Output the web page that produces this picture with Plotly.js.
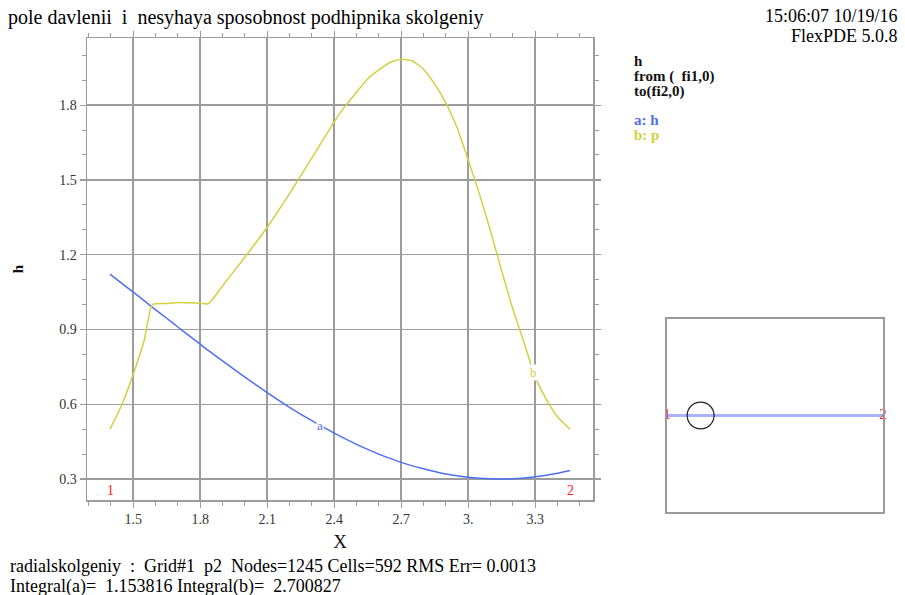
<!DOCTYPE html>
<html><head><meta charset="utf-8">
<script src="https://cdn.plot.ly/plotly-3.0.1.min.js"></script>
<style>html,body{margin:0;padding:0;background:#fff}#chart{width:905px;height:595px}</style>
</head><body><div id="chart"></div>
<script>
// ---- data ----
const xVals = [1.396,1.45,1.50,1.55,1.586,1.65,1.70,1.75,1.80,1.836,1.90,2.00,2.10,2.20,2.30,2.40,2.45,2.50,2.55,2.60,2.65,2.70,2.75,2.80,2.85,2.90,2.95,3.00,3.05,3.10,3.15,3.20,3.25,3.30,3.35,3.40,3.456];
const hVals = [1.122,1.084,1.050,1.015,0.989,0.945,0.910,0.875,0.841,0.816,0.774,0.709,0.647,0.588,0.534,0.484,0.461,0.439,0.419,0.400,0.383,0.367,0.353,0.341,0.330,0.320,0.313,0.307,0.303,0.301,0.300,0.301,0.304,0.309,0.315,0.323,0.334];
const pVals = [0.500,0.600,0.720,0.860,1.000,1.004,1.008,1.007,1.005,1.003,1.075,1.190,1.310,1.445,1.588,1.733,1.797,1.852,1.905,1.941,1.971,1.984,1.977,1.944,1.884,1.809,1.710,1.580,1.445,1.295,1.135,0.982,0.848,0.710,0.620,0.550,0.500];
const seriesNames = ['h','p'];
const seriesLetters = ['a','b'];
const xTickVals = [1.5,1.8,2.1,2.4,2.7,3.0,3.3];
const xTickText = ['1.5','1.8','2.1','2.4','2.7','3.','3.3'];
const yTickVals = [0.3,0.6,0.9,1.2,1.5,1.8];
const yTickText = ['0.3','0.6','0.9','1.2','1.5','1.8'];
const endLabels = ['1','2'];
// inset (domain sketch with the cut line)
const boxX = [0, 2.25];
const boxY = [0, 2.0];
const cutX = [0, 2.25];
const cutY = [1.0, 1.0];
const holeCenter = [0.35, 1.0];
const holeRadius = 0.14;

const titleText = 'pole davlenii\u00a0\u00a0i\u00a0\u00a0nesyhaya sposobnost podhipnika skolgeniy';
const stampText = '15:06:07 10/19/16';
const versionText = 'FlexPDE 5.0.8';
const infoLines = ['h', 'from (\u00a0\u00a0fi1,0)', 'to(fi2,0)'];
const footLines = ['radialskolgeniy\u00a0\u00a0:\u00a0\u00a0Grid#1\u00a0\u00a0p2\u00a0\u00a0Nodes=1245 Cells=592 RMS Err= 0.0013',
                   'Integral(a)=\u00a0\u00a01.153816 Integral(b)=\u00a0\u00a02.700827'];

const BLUE = '#4f6ff0', YELLOW = '#d3d040', GRID = '#9c9c9c', SERIF = 'Liberation Serif, Times New Roman, serif';
const W = 905, H = 595;
const px = v => v / W, py = v => 1 - v / H;

const traces = [
  {x: xVals, y: hVals, name: seriesNames[0], mode: 'lines', line: {color: BLUE, width: 1.5, shape: 'spline', smoothing: 0.6}, xaxis: 'x', yaxis: 'y'},
  {x: xVals, y: pVals, name: seriesNames[1], mode: 'lines', line: {color: YELLOW, width: 1.5, shape: 'spline', smoothing: 0.5}, xaxis: 'x', yaxis: 'y'},
  {x: cutX, y: cutY, mode: 'lines', line: {color: '#a9b2ff', width: 3}, xaxis: 'x2', yaxis: 'y2', hoverinfo: 'skip'},
  {x: cutX, y: cutY, mode: 'text', text: endLabels, textposition: 'middle center', cliponaxis: false,
   textfont: {family: SERIF, size: 15, color: '#ff1a1a'}, xaxis: 'x2', yaxis: 'y2', hoverinfo: 'skip'}
];

const axBase = {
  showline: true, linecolor: GRID, linewidth: 1.5, mirror: 'ticks',
  ticks: 'outside', ticklen: 6, tickwidth: 1.2, tickcolor: GRID,
  showgrid: true, gridcolor: GRID, gridwidth: 1.5, zeroline: false,
  tickmode: 'array', tickfont: {family: SERIF, size: 14, color: '#333'},
  minor: {tickmode: 'linear', tick0: 0, dtick: 0.1, ticks: 'outside', ticklen: 4, tickcolor: GRID, tickwidth: 1, showgrid: false}
};

const iA = xVals.indexOf(2.30), iB = xVals.indexOf(3.30);
const annotations = [
  {xref: 'paper', yref: 'paper', x: px(900), y: py(16), xanchor: 'right', yanchor: 'middle', showarrow: false,
   text: stampText, font: {family: SERIF, size: 18, color: '#000'}},
  {xref: 'paper', yref: 'paper', x: px(900), y: py(36), xanchor: 'right', yanchor: 'middle', showarrow: false,
   text: versionText, font: {family: SERIF, size: 18, color: '#000'}},
  {xref: 'paper', yref: 'paper', x: px(632), y: py(61), xanchor: 'left', yanchor: 'middle', showarrow: false,
   text: '<b>' + infoLines[0] + '</b>', font: {family: SERIF, size: 15, color: '#111'}},
  {xref: 'paper', yref: 'paper', x: px(632), y: py(76), xanchor: 'left', yanchor: 'middle', showarrow: false,
   text: '<b>' + infoLines[1] + '</b>', font: {family: SERIF, size: 15, color: '#111'}},
  {xref: 'paper', yref: 'paper', x: px(632), y: py(91), xanchor: 'left', yanchor: 'middle', showarrow: false,
   text: '<b>' + infoLines[2] + '</b>', font: {family: SERIF, size: 15, color: '#111'}},
  {xref: 'paper', yref: 'paper', x: px(632), y: py(120), xanchor: 'left', yanchor: 'middle', showarrow: false,
   text: '<b>' + seriesLetters[0] + ': ' + seriesNames[0] + '</b>', font: {family: SERIF, size: 15, color: BLUE}},
  {xref: 'paper', yref: 'paper', x: px(632), y: py(135), xanchor: 'left', yanchor: 'middle', showarrow: false,
   text: '<b>' + seriesLetters[1] + ': ' + seriesNames[1] + '</b>', font: {family: SERIF, size: 15, color: YELLOW}},
  {xref: 'paper', yref: 'paper', x: px(8), y: py(566), xanchor: 'left', yanchor: 'middle', showarrow: false,
   text: footLines[0], font: {family: SERIF, size: 18, color: '#000'}},
  {xref: 'paper', yref: 'paper', x: px(8), y: py(586), xanchor: 'left', yanchor: 'middle', showarrow: false,
   text: footLines[1], font: {family: SERIF, size: 18, color: '#000'}},
  // curve letters on the lines
  {xref: 'x', yref: 'y', x: xVals[iA], y: hVals[iA], xshift: 8, yshift: -5, showarrow: false, bgcolor: '#fff', borderpad: 0,
   text: seriesLetters[0], font: {family: SERIF, size: 13, color: BLUE}},
  {xref: 'x', yref: 'y', x: xVals[iB], y: pVals[iB], xshift: -2, yshift: 4, showarrow: false, bgcolor: '#fff', borderpad: 0,
   text: seriesLetters[1], font: {family: SERIF, size: 13, color: YELLOW}},
  // path end numbers
  {xref: 'x', yref: 'y', x: xVals[0], y: 0.216, yanchor: 'bottom', showarrow: false,
   text: endLabels[0], font: {family: SERIF, size: 14, color: '#ff1a1a'}},
  {xref: 'x', yref: 'y', x: xVals[xVals.length - 1], y: 0.216, yanchor: 'bottom', showarrow: false,
   text: endLabels[1], font: {family: SERIF, size: 14, color: '#ff1a1a'}}
];

const layout = {
  width: W, height: H, margin: {l: 0, r: 0, t: 0, b: 0},
  paper_bgcolor: '#fff', plot_bgcolor: '#fff', showlegend: false,
  title: {text: titleText, x: px(8), xanchor: 'left', y: py(17), yanchor: 'middle', xref: 'paper', yref: 'paper',
          font: {family: SERIF, size: 20, color: '#000'}},
  xaxis: Object.assign({}, axBase, {
    domain: [87 / W, 593 / W], range: [1.293, 3.559], tickvals: xTickVals, ticktext: xTickText,
    title: {text: 'X', font: {family: SERIF, size: 19, color: '#111'}, standoff: 8}
  }),
  yaxis: Object.assign({}, axBase, {
    domain: [95 / H, (H - 38.3) / H], range: [0.216, 2.068], tickvals: yTickVals, ticktext: yTickText,
    title: {text: '<b>h</b>', font: {family: SERIF, size: 15, color: '#111'}, standoff: 32}
  }),
  xaxis2: {domain: [667 / W, 883 / W], range: boxX, anchor: 'y2', showline: true, mirror: true, linecolor: '#9a9a9a', linewidth: 2,
           showgrid: false, zeroline: false, showticklabels: false, ticks: ''},
  yaxis2: {domain: [(H - 511.7) / H, (H - 319.3) / H], range: boxY, anchor: 'x2', showline: true, mirror: true, linecolor: '#9a9a9a', linewidth: 2,
           showgrid: false, zeroline: false, showticklabels: false, ticks: ''},
  shapes: [
    {type: 'circle', xref: 'x2', yref: 'y2', x0: holeCenter[0] - holeRadius, x1: holeCenter[0] + holeRadius,
     y0: holeCenter[1] - holeRadius, y1: holeCenter[1] + holeRadius, line: {color: '#222', width: 1.2}}
  ],
  annotations: annotations
};

Plotly.newPlot('chart', traces, layout, {displayModeBar: false, staticPlot: true});
</script>
</body></html>
